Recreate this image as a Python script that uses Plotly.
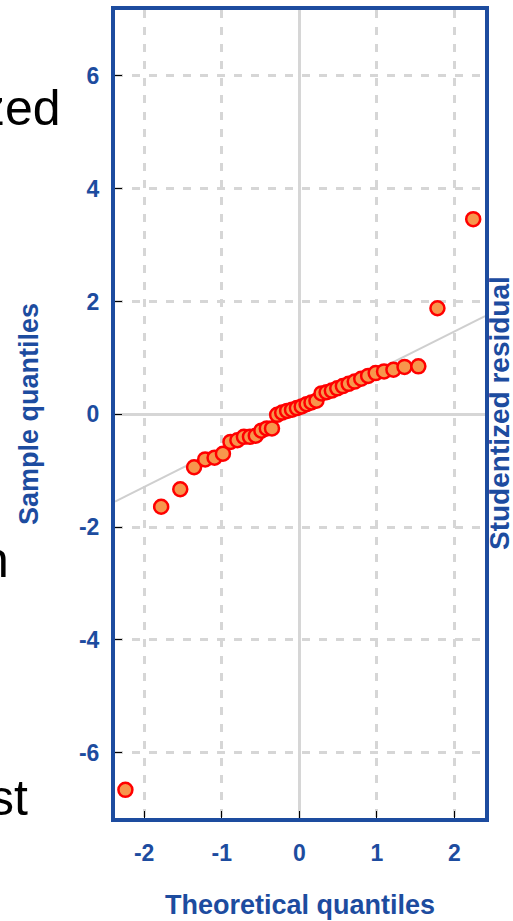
import plotly.graph_objects as go

# Normal QQ plot of studentized residuals (40 observations)
theoretical_q = [
    -2.241, -1.780, -1.534, -1.356, -1.213, -1.092, -0.984, -0.887, -0.798, -0.714,
    -0.636, -0.561, -0.489, -0.419, -0.352, -0.286, -0.221, -0.157, -0.094, -0.031,
    0.031, 0.094, 0.157, 0.221, 0.286, 0.352, 0.419, 0.489, 0.561, 0.636,
    0.714, 0.798, 0.887, 0.984, 1.092, 1.213, 1.356, 1.534, 1.780, 2.241,
]
sample_q = [
    -6.66, -1.64, -1.33, -0.94, -0.80, -0.77, -0.70, -0.49, -0.46, -0.40,
    -0.40, -0.38, -0.29, -0.25, -0.25, -0.01, 0.03, 0.06, 0.08, 0.11,
    0.14, 0.18, 0.21, 0.24, 0.37, 0.39, 0.42, 0.46, 0.50, 0.54,
    0.58, 0.63, 0.68, 0.73, 0.76, 0.79, 0.84, 0.85, 1.88, 3.46,
]
# reference line through the quartiles
line_intercept = 0.09
line_slope = 0.69

x_ticks = [-2, -1, 0, 1, 2]
x_tick_text = ["-2", "-1", "0", "1", "2"]
y_ticks = [-6, -4, -2, 0, 2, 4, 6]
y_tick_text = ["-6", "-4", "-2", "0", "2", "4", "6"]
x_range = [-2.375, 2.393]
y_range = [-7.16, 7.17]

BLUE = "#1D4C9F"
GRID = "#D6D6D6"
W, H = 513, 921
M = dict(l=115, r=28, t=10, b=103)


def px_to_paper(xp, yp):
    pw = W - M["l"] - M["r"]
    ph = H - M["t"] - M["b"]
    return (xp - M["l"]) / pw, (H - M["b"] - yp) / ph


fig = go.Figure()

line_x = list(x_range)
line_y = [line_intercept + line_slope * v for v in line_x]
fig.add_trace(go.Scatter(
    x=line_x, y=line_y, mode="lines",
    line=dict(color="#CFCFCF", width=2),
    hoverinfo="skip", showlegend=False,
))

fig.add_trace(go.Scatter(
    x=theoretical_q, y=sample_q, mode="markers",
    marker=dict(size=14, color="#F7964C", line=dict(color="#FF0000", width=2.5)),
    showlegend=False,
))

axis_common = dict(
    showline=True, linecolor=BLUE, linewidth=4, mirror=True,
    showgrid=True, gridcolor=GRID, gridwidth=3, griddash="8px,9px",
    zeroline=True, zerolinecolor=GRID, zerolinewidth=3,
    ticks="inside", ticklen=7, tickwidth=1, tickcolor="black",
    tickfont=dict(family="Liberation Sans", size=23, color=BLUE, weight="bold"),
    automargin=False,
)

fig.update_xaxes(
    range=x_range, tickvals=x_ticks, ticktext=x_tick_text, ticklabelstandoff=11,
    **axis_common,
    title=dict(text="Theoretical quantiles", standoff=32,
               font=dict(family="Liberation Sans", size=27, color=BLUE, weight="bold")),
)
fig.update_yaxes(
    range=y_range, tickvals=y_ticks, ticktext=y_tick_text, ticklabelstandoff=7,
    **axis_common,
    title=dict(text="Sample quantiles", standoff=33,
               font=dict(family="Liberation Sans", size=27, color=BLUE, weight="bold")),
)

annotations = []
# right-hand axis caption
ax, ay = px_to_paper(499, 413)
annotations.append(dict(
    x=ax, y=ay, xref="paper", yref="paper", text="Studentized residual",
    textangle=-90, showarrow=False, xanchor="center", yanchor="middle",
    font=dict(family="Liberation Sans", size=28, color=BLUE, weight="bold"),
))
# side text running off the left edge
for txt, xr, yc in [("zed", 63, 108), ("n", 11, 560), ("st", 30, 798)]:
    tx, ty = px_to_paper(xr, yc)
    annotations.append(dict(
        x=tx, y=ty, xref="paper", yref="paper", text=txt, showarrow=False,
        xanchor="right", yanchor="middle",
        font=dict(family="Liberation Sans", size=50, color="black"),
    ))

fig.update_layout(
    width=W, height=H, margin=M,
    plot_bgcolor="white", paper_bgcolor="white",
    annotations=annotations,
)

fig.write_html("out.html")
